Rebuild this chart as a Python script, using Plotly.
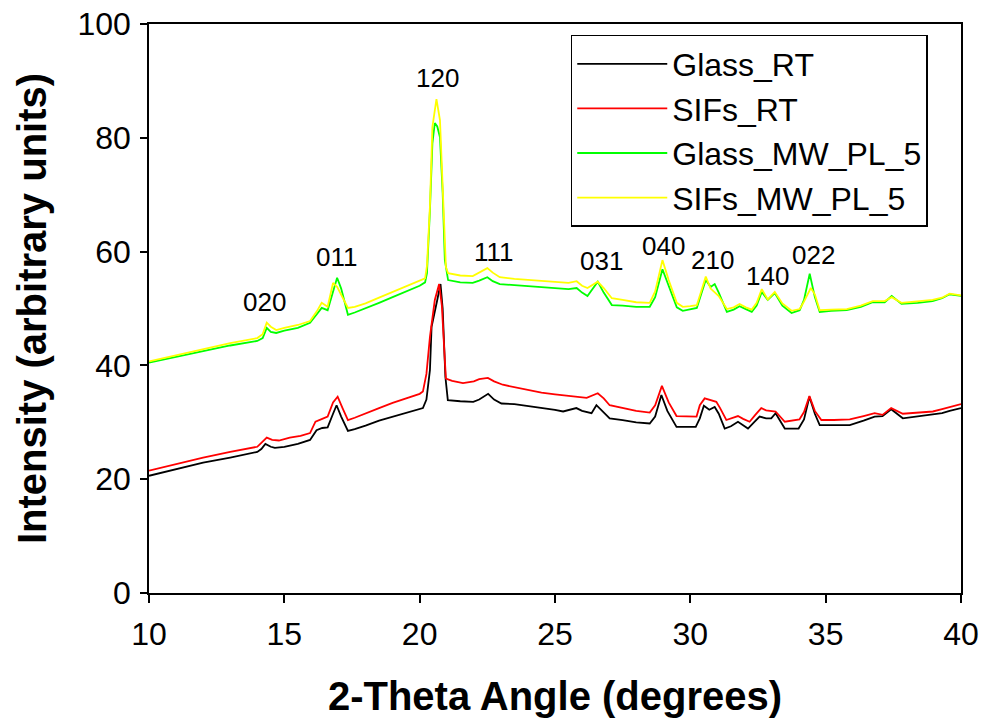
import plotly.graph_objects as go

# ---------------- data ----------------
glass_rt_x = [10.0, 11.0, 12.0, 13.0, 14.0, 14.15, 14.3, 14.5, 14.65, 15.0, 15.5, 15.95, 16.19, 16.4, 16.6,
              16.8, 16.93, 17.1, 17.35, 17.6, 18.0, 18.5, 19.0, 19.5, 20.0, 20.12, 20.25, 20.38, 20.44, 20.56,
              20.65, 20.77, 20.85, 20.95, 21.04, 21.5, 21.98, 22.2, 22.53, 22.75, 23.02, 23.5, 24.0, 24.5,
              25.0, 25.3, 25.79, 26.0, 26.35, 26.53, 26.75, 27.02, 27.5, 28.0, 28.5, 28.7, 28.93, 29.15,
              29.49, 30.2, 30.35, 30.5, 30.7, 30.9, 31.05, 31.27, 31.5, 31.76, 31.95, 32.13, 32.35, 32.56,
              32.8, 32.99, 33.15, 33.3, 33.49, 34.0, 34.2, 34.4, 34.6, 34.78, 35.3, 35.89, 36.4, 36.81,
              37.1, 37.42, 37.85, 38.4, 38.96, 39.3, 39.58, 40.0]
glass_rt_y = [20.6, 21.8, 22.9, 23.8, 24.8, 25.3, 26.2, 25.7, 25.5, 25.7, 26.2, 26.9, 28.6, 29.0, 29.1,
              31.5, 33.0, 31.0, 28.5, 28.8, 29.4, 30.3, 31.0, 31.7, 32.3, 32.5, 34.0, 39.2, 46.8, 49.2,
              51.5, 54.3, 50.0, 38.0, 33.9, 33.7, 33.6, 34.0, 35.0, 34.0, 33.3, 33.2, 32.9, 32.6,
              32.2, 31.9, 32.5, 32.0, 31.6, 33.0, 32.0, 30.7, 30.4, 30.0, 29.8, 31.0, 34.8, 32.0,
              29.2, 29.2, 30.7, 32.9, 32.2, 32.7, 31.5, 28.9, 29.3, 30.1, 29.5, 28.9, 30.0, 31.0,
              30.7, 30.7, 31.6, 30.3, 28.9, 28.9, 30.5, 34.5, 31.5, 29.5, 29.5, 29.5, 30.3, 31.0,
              31.1, 32.3, 30.7, 31.0, 31.3, 31.6, 32.0, 32.5]

sifs_rt_x = [10.0, 11.0, 12.0, 13.0, 14.0, 14.15, 14.35, 14.55, 14.8, 15.2, 15.6, 15.95, 16.15, 16.4, 16.6,
             16.8, 16.97, 17.15, 17.35, 17.6, 18.0, 18.5, 19.0, 19.5, 20.0, 20.12, 20.25, 20.38, 20.56,
             20.72, 20.82, 20.93, 20.97, 21.2, 21.6, 22.0, 22.2, 22.52, 22.75, 23.07, 23.5, 24.0, 24.5,
             25.0, 25.66, 26.17, 26.58, 26.8, 27.02, 27.5, 28.0, 28.5, 28.7, 28.95, 29.2, 29.49, 30.23,
             30.35, 30.53, 30.96, 31.1, 31.33, 31.55, 31.76, 31.95, 32.19, 32.4, 32.62, 32.8, 32.99,
             33.15, 33.49, 34.03, 34.2, 34.4, 34.6, 34.84, 35.3, 35.89, 36.4, 36.81, 37.1, 37.42, 37.85,
             38.4, 38.96, 39.3, 39.58, 40.0]
sifs_rt_y = [21.5, 22.7, 23.8, 24.8, 25.7, 26.4, 27.3, 26.9, 26.8, 27.3, 27.6, 28.1, 30.1, 30.6, 31.0,
             33.5, 34.5, 32.5, 30.4, 30.8, 31.6, 32.5, 33.4, 34.2, 35.0, 35.4, 38.5, 45.0, 51.5,
             54.3, 50.5, 40.9, 37.7, 37.3, 36.9, 37.2, 37.6, 37.8, 37.2, 36.6, 36.2, 35.7, 35.2,
             34.9, 34.5, 34.3, 35.1, 34.2, 33.0, 32.5, 32.0, 31.7, 33.0, 36.4, 33.5, 31.1, 31.0,
             33.0, 34.2, 33.6, 32.5, 30.4, 30.7, 31.1, 30.6, 30.1, 31.3, 32.5, 32.1, 32.0,
             31.9, 30.1, 30.5, 31.8, 34.6, 32.0, 30.4, 30.4, 30.5, 31.1, 31.6, 31.3, 32.5, 31.5,
             31.7, 31.9, 32.3, 32.7, 33.2]

glass_mw_x = [10.0, 11.0, 12.0, 13.0, 14.0, 14.2, 14.35, 14.5, 14.7, 15.0, 15.5, 15.95, 16.2, 16.38, 16.6,
              16.8, 16.95, 17.1, 17.35, 17.6, 18.0, 18.5, 19.0, 19.5, 20.0, 20.2, 20.27, 20.38, 20.47,
              20.56, 20.65, 20.75, 20.85, 20.93, 21.05, 21.5, 21.96, 22.2, 22.5, 22.7, 22.96, 23.5, 24.0,
              24.5, 25.0, 25.5, 25.8, 26.0, 26.2, 26.58, 26.8, 27.1, 27.5, 28.0, 28.5, 28.7, 28.97, 29.2,
              29.5, 29.72, 30.0, 30.24, 30.4, 30.57, 30.75, 30.9, 31.05, 31.35, 31.6, 31.82, 32.05, 32.27,
              32.45, 32.64, 32.86, 33.12, 33.4, 33.74, 34.04, 34.2, 34.41, 34.6, 34.78, 35.2, 35.78, 36.3,
              36.74, 37.18, 37.44, 37.8, 38.4, 38.95, 39.3, 39.58, 40.0]
glass_mw_y = [40.5, 41.5, 42.5, 43.5, 44.3, 44.8, 46.6, 45.9, 45.7, 46.1, 46.6, 47.5, 49.0, 50.1, 49.7,
              53.0, 55.4, 53.5, 48.9, 49.3, 50.0, 51.0, 52.0, 53.0, 54.0, 54.6, 56.2, 67.3, 79.0,
              82.6, 82.0, 80.1, 70.3, 58.5, 55.0, 54.6, 54.5, 54.9, 55.5, 54.8, 54.3, 54.1, 53.9,
              53.7, 53.5, 53.4, 53.6, 52.8, 52.2, 54.7, 52.8, 50.6, 50.5, 50.3, 50.3, 52.0, 56.9, 54.0,
              50.2, 49.6, 49.8, 50.1, 52.5, 55.0, 53.8, 54.3, 52.8, 49.4, 49.8, 50.4, 49.9, 49.4,
              50.5, 52.9, 51.5, 52.7, 50.5, 49.2, 49.7, 51.5, 56.1, 52.0, 49.4, 49.6, 49.7, 50.3,
              51.1, 51.1, 52.2, 50.8, 51.0, 51.3, 51.8, 52.5, 52.2]

sifs_mw_x = [10.0, 11.0, 12.0, 13.0, 14.0, 14.2, 14.35, 14.5, 14.7, 15.0, 15.5, 15.95, 16.2, 16.38, 16.6,
             16.8, 16.95, 17.1, 17.35, 17.6, 18.0, 18.5, 19.0, 19.5, 20.0, 20.2, 20.27, 20.38, 20.47,
             20.56, 20.62, 20.75, 20.85, 20.97, 21.05, 21.5, 21.96, 22.2, 22.5, 22.7, 22.96, 23.5, 24.0,
             24.5, 25.0, 25.5, 25.8, 26.0, 26.2, 26.58, 26.8, 27.1, 27.5, 28.0, 28.5, 28.7, 28.97, 29.2,
             29.5, 29.72, 30.0, 30.24, 30.4, 30.57, 30.75, 30.9, 31.05, 31.35, 31.6, 31.82, 32.05, 32.27,
             32.45, 32.64, 32.86, 33.12, 33.4, 33.74, 34.04, 34.2, 34.45, 34.6, 34.78, 35.2, 35.78, 36.3,
             36.74, 37.18, 37.44, 37.8, 38.4, 38.95, 39.3, 39.58, 40.0]
sifs_mw_y = [40.7, 41.8, 42.8, 43.9, 44.8, 45.5, 47.5, 46.8, 46.2, 46.6, 47.1, 47.8, 49.5, 51.0, 50.3,
             54.5, 53.8, 52.5, 50.1, 50.3, 50.9, 51.9, 52.9, 53.9, 54.8, 55.3, 57.5, 68.0, 81.9,
             85.5, 86.8, 83.1, 70.3, 57.3, 56.2, 55.8, 55.7, 56.3, 57.1, 56.3, 55.5, 55.2, 55.0,
             54.8, 54.6, 54.5, 54.8, 54.0, 53.6, 54.7, 53.6, 51.8, 51.5, 51.1, 51.0, 53.0, 58.5, 55.0,
             51.0, 50.3, 50.4, 50.6, 53.0, 55.6, 53.5, 52.8, 52.2, 49.9, 50.2, 50.8, 50.2, 49.8,
             51.0, 53.4, 51.6, 52.9, 50.9, 49.6, 49.9, 51.2, 53.6, 52.5, 49.7, 49.8, 49.9, 50.5,
             51.3, 51.3, 52.0, 51.0, 51.2, 51.5, 51.9, 52.6, 52.3]

peak_labels = ["020", "011", "120", "111", "031", "040", "210", "140", "022"]
peak_label_x = [14.25, 16.93, 20.67, 22.74, 26.72, 28.99, 30.83, 32.85, 34.56]
peak_label_y = [51.1, 59.0, 90.5, 60.0, 58.4, 60.9, 58.5, 55.7, 59.4]

x_ticks = [10, 15, 20, 25, 30, 35, 40]
y_ticks = [0, 20, 40, 60, 80, 100]

FONT = "Arial, 'Liberation Sans', sans-serif"

fig = go.Figure()
series = [
    ("Glass_RT", glass_rt_x, glass_rt_y, "#000000"),
    ("SIFs_RT", sifs_rt_x, sifs_rt_y, "#ff0000"),
    ("Glass_MW_PL_5", glass_mw_x, glass_mw_y, "#00ff00"),
    ("SIFs_MW_PL_5", sifs_mw_x, sifs_mw_y, "#ffff00"),
]
for name, xs, ys, col in series:
    fig.add_trace(go.Scatter(x=xs, y=ys, mode="lines", name=name,
                             line=dict(color=col, width=1.8)))

for t, xv, yv in zip(peak_labels, peak_label_x, peak_label_y):
    fig.add_annotation(x=xv, y=yv, text=t, showarrow=False,
                       font=dict(family=FONT, size=26, color="black"))

fig.update_layout(
    width=982, height=721,
    margin=dict(l=149, r=21, t=24, b=128),
    paper_bgcolor="white", plot_bgcolor="white",
    font=dict(family=FONT, color="black"),
    showlegend=True,
    legend=dict(x=0.5194, y=0.9807, xanchor="left", yanchor="top",
                bgcolor="white", bordercolor="black", borderwidth=1.5,
                font=dict(family=FONT, size=32, color="black"),
                itemwidth=90, tracegroupgap=0),
)
fig.update_xaxes(range=[10, 40], tickvals=x_ticks, ticktext=[str(v) for v in x_ticks],
                 ticks="outside", ticklen=8, tickwidth=1.5, tickcolor="black",
                 showline=True, linecolor="black", linewidth=1.5, mirror=True,
                 showgrid=False, zeroline=False, automargin=False, ticklabelstandoff=4,
                 ticklabeloverflow="allow",
                 tickfont=dict(family=FONT, size=32, color="black"),
                 title=dict(text="<b>2-Theta Angle (degrees)</b>",
                            font=dict(family=FONT, size=40, color="black"), standoff=31))
fig.update_yaxes(range=[0, 100], tickvals=y_ticks, ticktext=[str(v) for v in y_ticks],
                 ticks="outside", ticklen=7, tickwidth=1.5, tickcolor="black",
                 showline=True, linecolor="black", linewidth=1.5, mirror=True,
                 showgrid=False, zeroline=False, automargin=False, ticklabelstandoff=3,
                 ticklabeloverflow="allow",
                 tickfont=dict(family=FONT, size=32, color="black"),
                 title=dict(text="<b>Intensity (arbitrary units)</b>",
                            font=dict(family=FONT, size=40, color="black"), standoff=18))

fig.write_html("out.html", config={"displayModeBar": False},
               post_script="document.body.style.margin='0';document.body.style.overflow='hidden';")
